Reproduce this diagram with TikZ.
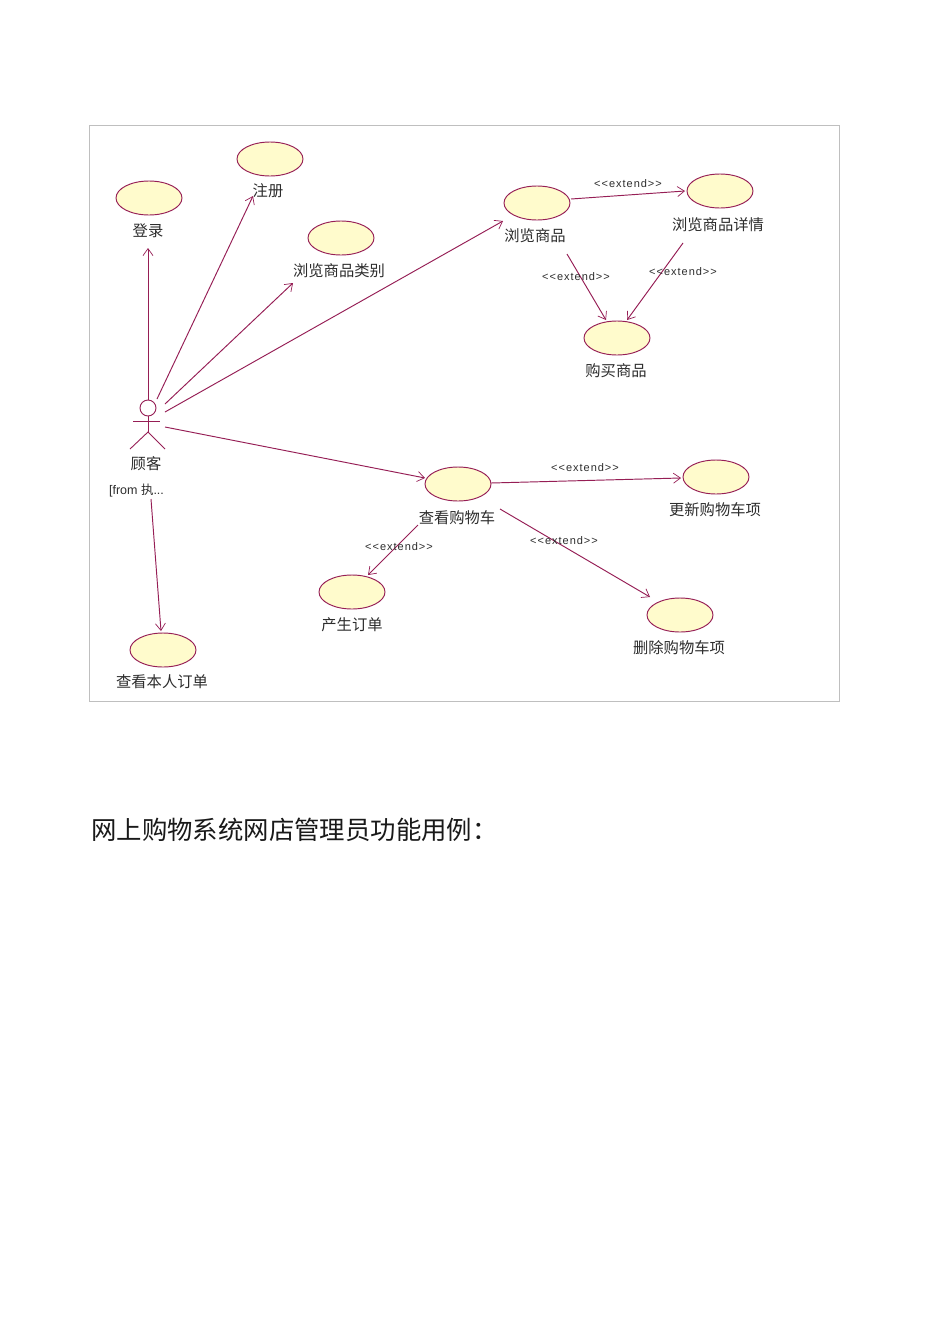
\documentclass[tikz,border=0pt]{standalone}
\usepackage{fontspec}
\setmainfont{Liberation Sans}
\newfontfamily\cjk{Noto Sans CJK SC}
\newfontfamily\stereofont[LetterSpace=9,Ligatures=NoCommon]{Liberation Sans}
\usetikzlibrary{arrows.meta,shapes.geometric}
\definecolor{umlline}{RGB}{150,30,85}
\definecolor{umlfill}{RGB}{255,251,204}
\definecolor{umltext}{RGB}{45,45,45}
\tikzset{
  usecase/.style={ellipse,draw=umlline,fill=umlfill,line width=0.95pt,minimum width=66pt,minimum height=34pt,inner sep=0pt},
  uclabel/.style={font=\cjk\fontsize{15.3}{17}\selectfont,text=umltext,inner sep=0pt},
  stereo/.style={font=\stereofont\fontsize{11}{12}\selectfont,text=umltext,inner sep=0pt},
  rel/.style={draw=umlline,line width=0.95pt,-{Straight Barb[length=7pt,width=10pt,line width=0.7pt]}},
  stick/.style={draw=umlline,line width=0.9pt},
}
\newcommand{\ext}{<{}<extend>{}>}
\begin{document}
\begin{tikzpicture}[x=1pt,y=-1pt]
\useasboundingbox (0,0) rectangle (950,1344);
\fill[white] (0,0) rectangle (950,1344);
\node[draw=black!25,line width=0.8pt,minimum width=750pt,minimum height=576pt,inner sep=0pt] (frame) at (464,413) {};

% use cases
\node[usecase] (login) at (149,198) {};
\node[usecase] (register) at (270,159) {};
\node[usecase] (category) at (341,238) {};
\node[usecase] (browse) at (537,203) {};
\node[usecase] (detail) at (720,191) {};
\node[usecase] (buy) at (617,338) {};
\node[usecase] (cart) at (458,484) {};
\node[usecase] (update) at (716,477) {};
\node[usecase] (remove) at (680,615) {};
\node[usecase] (generate) at (352,592) {};
\node[usecase] (myorder) at (163,650) {};

% labels
\node[uclabel] (loginL) at (148,231) {登录};
\node[uclabel] (registerL) at (268,191) {注册};
\node[uclabel] (categoryL) at (339,271) {浏览商品类别};
\node[uclabel] (browseL) at (535,236) {浏览商品};
\node[uclabel] (detailL) at (718,225) {浏览商品详情};
\node[uclabel] (buyL) at (616,371) {购买商品};
\node[uclabel] (cartL) at (457,518) {查看购物车};
\node[uclabel] (updateL) at (715,510) {更新购物车项};
\node[uclabel] (removeL) at (679,648) {删除购物车项};
\node[uclabel] (generateL) at (352,625) {产生订单};
\node[uclabel] (myorderL) at (162,682) {查看本人订单};
\node[uclabel] (actorL) at (146,464) {顾客};
\node[inner sep=0pt,text=umltext,font=\fontsize{12.5}{13}\selectfont] (fromL) at (136.5,491) {[from {\cjk 执}...};

% actor
\node[circle,draw=umlline,line width=0.9pt,minimum size=16pt,inner sep=0pt] (actor) at (148,408) {};
\coordinate (armL) at (133,421);
\coordinate (armR) at (160,421);
\coordinate (hip) at (148,432);
\coordinate (legL) at (130,449);
\coordinate (legR) at (165,449);
\draw[stick] (armL) -- (armR);
\draw[stick] (actor.south) -- (hip);
\draw[stick] (legL) -- (hip) -- (legR);

% connector ends
\coordinate (a1) at (148,400);
\coordinate (a2) at (157,399);
\coordinate (a3) at (165,404);
\coordinate (a4) at (165,412);
\coordinate (a5) at (165,427);
\coordinate (a6) at (151,499);
\coordinate (e1) at (148,248);
\coordinate (e2) at (253,196);
\coordinate (e3) at (293,283);
\coordinate (e4) at (503,221);
\coordinate (e5) at (425,478);
\coordinate (e6) at (161,631);
\coordinate (b1) at (571,199);
\coordinate (b2) at (685,191);
\coordinate (b3) at (567,254);
\coordinate (b4) at (606,320);
\coordinate (d1) at (683,243);
\coordinate (d2) at (627,320);
\coordinate (c1) at (491,483);
\coordinate (c2) at (681,478);
\coordinate (c3) at (500,509);
\coordinate (c4) at (650,597);
\coordinate (c5) at (418,525);
\coordinate (c6) at (368,575);

\draw[rel] (a1) -- (e1);
\draw[rel] (a2) -- (e2);
\draw[rel] (a3) -- (e3);
\draw[rel] (a4) -- (e4);
\draw[rel] (a5) -- (e5);
\draw[rel] (a6) -- (e6);
\draw[rel] (b1) -- (b2);
\draw[rel] (b3) -- (b4);
\draw[rel] (d1) -- (d2);
\draw[rel] (c1) -- (c2);
\draw[rel] (c3) -- (c4);
\draw[rel] (c5) -- (c6);

% stereotypes
\node[stereo] (s1) at (628,184) {\ext};
\node[stereo] (s2) at (576,277) {\ext};
\node[stereo] (s3) at (683,272) {\ext};
\node[stereo] (s4) at (585,468) {\ext};
\node[stereo] (s5) at (564,541) {\ext};
\node[stereo] (s6) at (399,547) {\ext};

% caption
\node[anchor=west,inner sep=0pt,font=\cjk\fontsize{25.4}{28}\selectfont,text=black!90] (caption) at (91,830) {网上购物系统网店管理员功能用例：};
\end{tikzpicture}
\end{document}
